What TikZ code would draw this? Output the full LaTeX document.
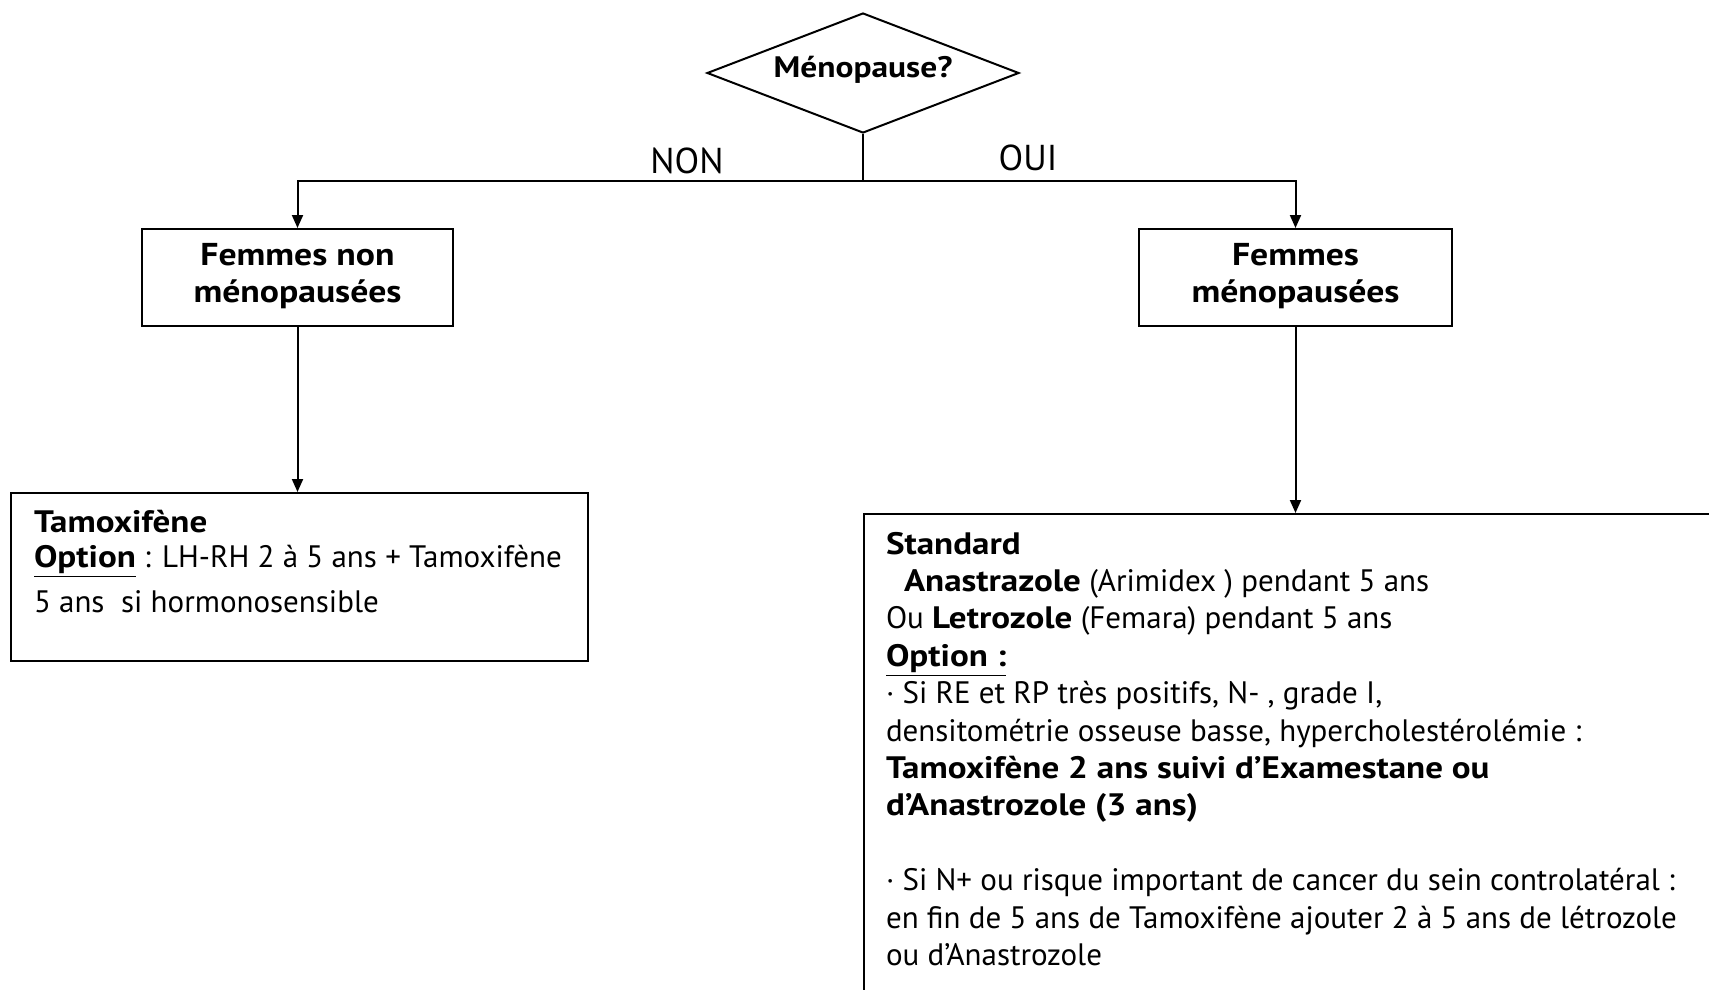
\documentclass[tikz,border=0pt]{standalone}
\usepackage{fontspec}
\setmainfont{PT Sans}[BoldFeatures={FakeStretch=1.13}]
\usetikzlibrary{shapes.geometric,arrows.meta}
\begin{document}
\begin{tikzpicture}[x=0.5pt,y=-0.5pt,
  line width=1pt,
  arr/.style={-{Triangle[length=6.5pt,width=5.5pt]}},
  box/.style={draw,rectangle,inner sep=0pt},
  txt/.style={font=\fontsize{15.5}{18.7}\selectfont},
  lbl/.style={font=\fontsize{18}{20}\selectfont},
  ttl/.style={font=\bfseries\fontsize{15.8}{18.5}\selectfont}]
\useasboundingbox (0,0) rectangle (1709,990);
\clip (0,0) rectangle (1709,990);
% decision
\node[draw,diamond,aspect=2.6,minimum width=156pt,minimum height=60pt,inner sep=0pt] (q) at (863,73) {};
\node[font=\bfseries\fontsize{14.8}{17}\selectfont,inner sep=0pt] (qt) at (863,69.5) {Ménopause?};
\coordinate (j) at (863,181);
\draw (q.south) -- (j);
\node[lbl,inner sep=0pt] (non) at (687,161) {NON};
\node[lbl,inner sep=0pt] (oui) at (1028,158) {OUI};
% second level
\node[box,minimum width=155.5pt,minimum height=48.5pt] (b1) at (297.5,277.5) {};
\node[ttl,align=center,inner sep=0pt] (b1t) at (297.5,276) {Femmes non\\ménopausées};
\node[box,minimum width=156.5pt,minimum height=48.5pt] (b2) at (1295.5,277.5) {};
\node[ttl,align=center,inner sep=0pt] (b2t) at (1295.5,276) {Femmes\\ménopausées};
\draw[arr] (j) -| (b1.north);
\draw[arr] (j) -| (b2.north);
% third level
\node[box,minimum width=288.25pt,minimum height=83.75pt] (l1) at (299.25,576.75) {};
\node[txt,align=left,anchor=north west,inner sep=0pt] (l1t) at (33,509.5) {\textbf{Tamoxifène}\\[-1.2pt]
\textbf{\underline{Option}} : LH-RH 2 à 5 ans + Tamoxifène\\[3.6pt]
5 ans\ \ si hormonosensible};
\node[box,minimum width=433pt,minimum height=248pt] (r1) at (1297,762) {};
\node[txt,align=left,anchor=north west,inner sep=0pt] (r1t) at (885,531) {\textbf{Standard}\\
\hspace*{9pt}\textbf{Anastrazole} (Arimidex ) pendant 5 ans\\
Ou \textbf{Letrozole} (Femara) pendant 5 ans\\
\textbf{\underline{Option :}}\\
· Si RE et RP très positifs, N- , grade I,\\
densitométrie osseuse basse, hypercholestérolémie :\\
\textbf{Tamoxifène 2 ans suivi d’Examestane ou}\\
\textbf{d’Anastrozole (3 ans)}\\
\mbox{}\\
· Si N+ ou risque important de cancer du sein controlatéral :\\
en fin de 5 ans de Tamoxifène ajouter 2 à 5 ans de létrozole\\
ou d’Anastrozole};
\draw[arr] (b1.south) -- (b1.south |- l1.north);
\draw[arr] (b2.south) -- (b2.south |- r1.north);
\end{tikzpicture}
\end{document}
